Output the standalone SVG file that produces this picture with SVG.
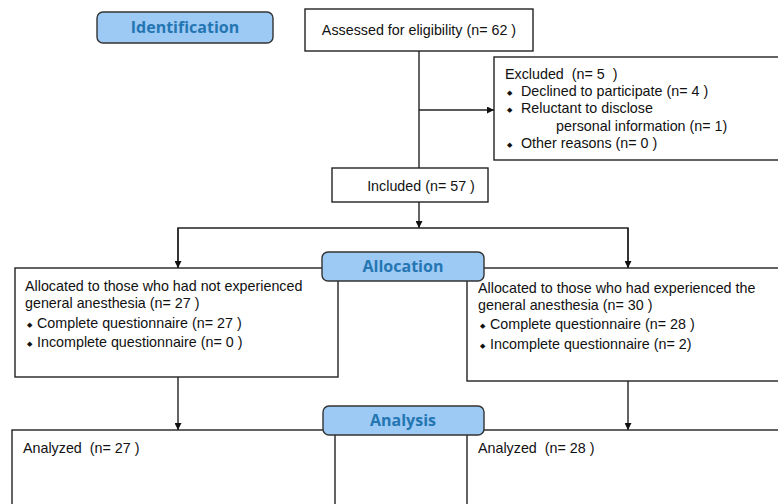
<svg xmlns="http://www.w3.org/2000/svg" width="778" height="504" viewBox="0 0 778 504">
<defs>
<marker id="arr" viewBox="0 0 10 10" refX="10" refY="5" markerWidth="7" markerHeight="7" markerUnits="userSpaceOnUse" orient="auto">
<path d="M0,0 L10,5 L0,10 z" fill="#111"/>
</marker>
<style>
.box{fill:#fff;stroke:#222;stroke-width:1.4}
.lab{fill:#9dc9f5;stroke:#333;stroke-width:1.4}
.lt{font-family:"Open Sans","DejaVu Sans",sans-serif;font-weight:bold;font-size:16px;fill:#2476b2;text-anchor:middle}
.t{font-family:"Liberation Sans",Arial,sans-serif;font-size:14.3px;fill:#111;white-space:pre}
.b{font-family:"DejaVu Sans",sans-serif;font-size:7px;fill:#111}
.c{fill:none;stroke:#222;stroke-width:1.4}
</style>
</defs>
<rect width="778" height="504" fill="#fff"/>
<g id="connectors">
<line class="c" x1="419" y1="51" x2="419" y2="168"/>
<line class="c" x1="419" y1="110" x2="494" y2="110" marker-end="url(#arr)"/>
<line class="c" x1="419" y1="202" x2="419" y2="228" marker-end="url(#arr)"/>
<polyline class="c" points="178,268 178,228 628,228 628,268"/>
<line class="c" x1="178" y1="228" x2="178" y2="268" marker-end="url(#arr)"/>
<line class="c" x1="628" y1="228" x2="628" y2="268" marker-end="url(#arr)"/>
<line class="c" x1="178" y1="377" x2="178" y2="430" marker-end="url(#arr)"/>
<line class="c" x1="628" y1="381" x2="628" y2="430" marker-end="url(#arr)"/>
</g>
<g id="assessed">
<rect class="box" x="305" y="9" width="228" height="42"/>
<text class="t" x="419" y="35" text-anchor="middle">Assessed for eligibility (n= 62 )</text>
</g>
<g id="excluded">
<rect class="box" x="494" y="57" width="290" height="103"/>
<text class="t" x="505" y="79">Excluded  (n= 5  )</text>
<text class="b" x="507" y="95">◆</text><text class="t" x="521" y="96">Declined to participate (n= 4 )</text>
<text class="b" x="507" y="112">◆</text><text class="t" x="521" y="113">Reluctant to disclose</text>
<text class="t" x="556" y="131">personal information (n= 1)</text>
<text class="b" x="507" y="147">◆</text><text class="t" x="521" y="148">Other reasons (n= 0 )</text>
</g>
<g id="included">
<rect class="box" x="332" y="168" width="156" height="34"/>
<text class="t" x="421" y="191" text-anchor="middle">Included (n= 57 )</text>
</g>
<g id="left-allocated">
<rect class="box" x="15" y="268" width="323" height="109"/>
<text class="t" x="25" y="291">Allocated to those who had not experienced</text>
<text class="t" x="25" y="308">general anesthesia (n= 27 )</text>
<text class="b" x="27" y="327">◆</text><text class="t" x="37" y="328">Complete questionnaire (n= 27 )</text>
<text class="b" x="27" y="346">◆</text><text class="t" x="37" y="347">Incomplete questionnaire (n= 0 )</text>
</g>
<g id="right-allocated">
<rect class="box" x="467" y="268" width="320" height="113"/>
<text class="t" x="478" y="293">Allocated to those who had experienced the</text>
<text class="t" x="478" y="310">general anesthesia (n= 30 )</text>
<text class="b" x="480" y="328">◆</text><text class="t" x="490" y="329">Complete questionnaire (n= 28 )</text>
<text class="b" x="480" y="348">◆</text><text class="t" x="490" y="349">Incomplete questionnaire (n= 2)</text>
</g>
<g id="left-analyzed">
<rect class="box" x="12" y="430" width="323" height="90"/>
<text class="t" x="23" y="453">Analyzed  (n= 27 )</text>
</g>
<g id="right-analyzed">
<rect class="box" x="467" y="430" width="320" height="90"/>
<text class="t" x="478" y="453">Analyzed  (n= 28 )</text>
</g>
<g id="identification">
<rect class="lab" x="97" y="12" width="176" height="31" rx="6"/>
<text class="lt" x="185" y="33">Identification</text>
</g>
<g id="allocation">
<rect class="lab" x="322" y="252" width="162" height="29" rx="6"/>
<text class="lt" x="403" y="272">Allocation</text>
</g>
<g id="analysis">
<rect class="lab" x="323" y="406" width="161" height="29" rx="6"/>
<text class="lt" x="403" y="426">Analysis</text>
</g>
</svg>
